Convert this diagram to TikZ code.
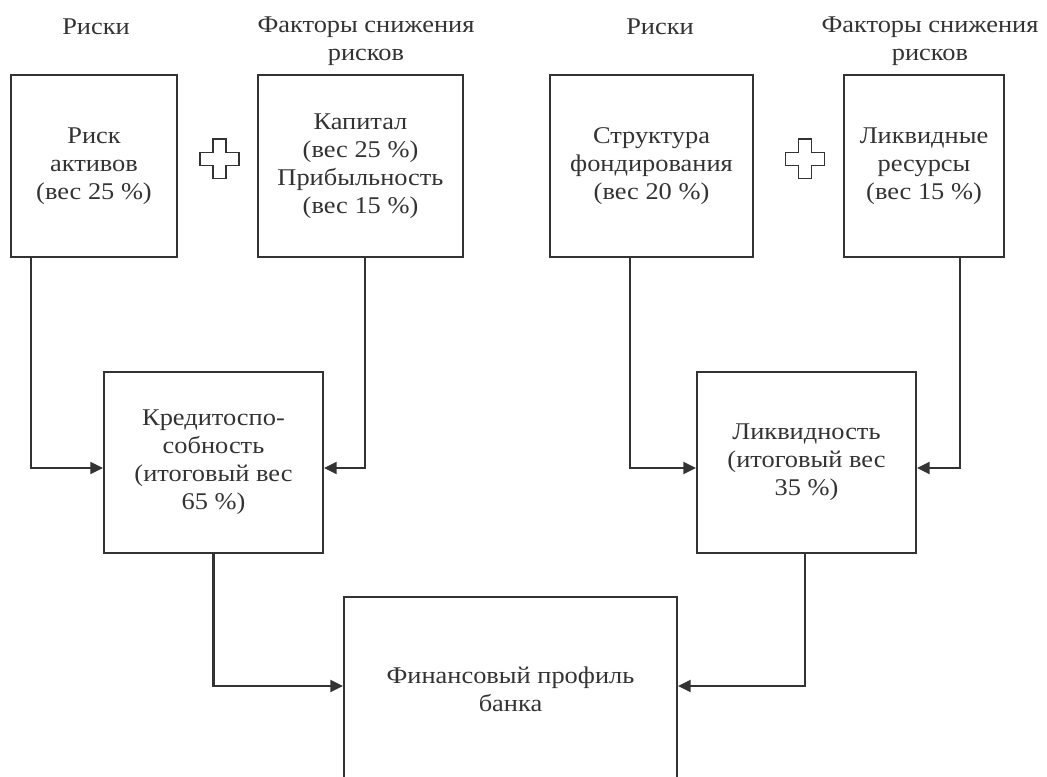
\documentclass[tikz,border=0pt]{standalone}
\usepackage{fontspec}
\setmainfont[FakeStretch=1.1]{Liberation Serif}
\usetikzlibrary{arrows.meta,calc}
\definecolor{lc}{HTML}{333333}
\tikzset{
  box/.style={draw=lc, line width=1.6pt, align=center, inner sep=0pt,
    font=\fontsize{18}{21}\selectfont, text=lc},
  head/.style={align=center, inner sep=0pt, font=\fontsize{18}{21}\selectfont, text=lc},
  conn/.style={draw=lc, line width=1.6pt, -{Triangle[length=9.5pt,width=9pt]}},
  plus/.style={draw=lc, line width=0.8pt},
}
\begin{document}
\begin{tikzpicture}[x=0.75pt,y=-0.75pt]
\useasboundingbox (0,0) rectangle (1047,776);
\clip (0,0) rectangle (1047,776);
% headings
\node[head] (h1) at (96,27) {Риски};
\node[head] (h2) at (366,41) {Факторы снижения\\рисков};
\node[head] (h3) at (660,27) {Риски};
\node[head] (h4) at (930,41) {Факторы снижения\\рисков};
% boxes
\node[box, minimum width=124.5pt, minimum height=136.5pt] (b1) at (94,166) {Риск\\активов\\(вес 25 \%)};
\node[box, minimum width=153.75pt, minimum height=136.5pt] (b2) at (360.5,166) {Капитал\\(вес 25 \%)\\Прибыльность\\(вес 15 \%)};
\node[box, minimum width=152.25pt, minimum height=136.5pt] (b3) at (651.5,166) {Структура\\фондирования\\(вес 20 \%)};
\node[box, minimum width=120pt, minimum height=136.5pt] (b4) at (924,166) {Ликвидные\\ресурсы\\(вес 15 \%)};
\node[box, minimum width=164.25pt, minimum height=135.75pt] (b5) at (213.5,462.5) {Кредитоспо-\\собность\\(итоговый вес\\65 \%)};
\node[box, minimum width=164.25pt, minimum height=135.75pt] (b7) at (806.5,462.5) {Ликвидность\\(итоговый вес\\35 \%)};
\node[box, minimum width=249.75pt, minimum height=138pt] (b6) at (510.5,689) {Финансовый профиль\\банка};
% plus signs
\foreach \n/\cx in {p1/219.5, p2/805}{
  \draw[plus] (\cx-6.5,139) -- (\cx+6.5,139) -- (\cx+6.5,152.5) -- (\cx+19.5,152.5)
    -- (\cx+19.5,165.5) -- (\cx+6.5,165.5) -- (\cx+6.5,178.5) -- (\cx-6.5,178.5)
    -- (\cx-6.5,165.5) -- (\cx-19.5,165.5) -- (\cx-19.5,152.5) -- (\cx-6.5,152.5) -- cycle;
}
% connectors
\coordinate (c1) at (31,0);
\coordinate (c2) at (365,0);
\coordinate (c3) at (630,0);
\coordinate (c4) at (960,0);
\draw[conn] (b1.south -| c1) |- ($(b5.west)+(0,5.5)$);
\draw[conn] (b2.south -| c2) |- ($(b5.east)+(0,5.5)$);
\draw[conn] (b3.south -| c3) |- ($(b7.west)+(0,5.5)$);
\draw[conn] (b4.south -| c4) |- ($(b7.east)+(0,5.5)$);
\draw[conn] (b5.south) |- ($(b6.west)+(0,-3)$);
\draw[conn] ($(b7.south)+(-1.5,0)$) |- ($(b6.east)+(0,-3)$);
\end{tikzpicture}
\end{document}
